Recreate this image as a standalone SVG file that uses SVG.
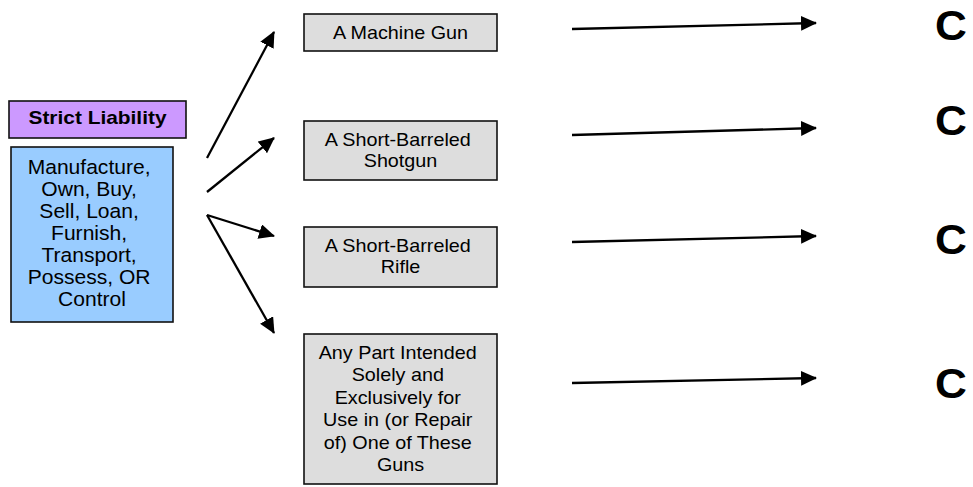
<svg xmlns="http://www.w3.org/2000/svg" width="973" height="487" viewBox="0 0 973 487">
  <defs>
    <marker id="head" markerUnits="userSpaceOnUse" markerWidth="17" markerHeight="16" refX="15" refY="7.5" orient="auto">
      <path d="M0,0 L16,7.5 L0,15 Z" fill="#000"/>
    </marker>
    <style>
      text { font-family: "Liberation Sans", Arial, sans-serif; fill: #000; text-anchor: middle; }
      .box { stroke: #111; stroke-width: 1.6; }
      .title { fill: #CC99FF; }
      .acts { fill: #99CCFF; }
      .item { fill: #DDDDDD; }
      .t-title { font-size: 18.5px; font-weight: bold; }
      .t-acts { font-size: 19.5px; }
      .t-item { font-size: 19px; }
      .t-c { font-size: 42px; font-weight: bold; text-anchor: start; }
      .link { stroke: #000; stroke-width: 2.3; fill: none; marker-end: url(#head); }
    </style>
  </defs>
  <rect width="973" height="487" fill="#fff"/>

  <g id="strict-liability">
    <rect class="box title" x="9" y="101" width="177" height="37"/>
    <text class="t-title" x="97.5" y="123.5" textLength="138" lengthAdjust="spacingAndGlyphs">Strict Liability</text>
  </g>

  <g id="acts">
    <rect class="box acts" x="11" y="147" width="162" height="175"/>
    <text class="t-acts" transform="translate(92 0) scale(1.08 1)">
      <tspan x="0" y="174.5">Manufacture,</tspan>
      <tspan x="0" y="196.5">Own, Buy,</tspan>
      <tspan x="0" y="218.5">Sell, Loan,</tspan>
      <tspan x="0" y="240.5">Furnish,</tspan>
      <tspan x="0" y="262.5">Transport,</tspan>
      <tspan x="0" y="284.5">Possess, OR</tspan>
      <tspan x="0" y="306.5">Control</tspan>
    </text>
  </g>

  <g id="machine-gun">
    <rect class="box item" x="304" y="14" width="193" height="37"/>
    <text class="t-item" transform="translate(400.5 0) scale(1.04 1)" x="0" y="39">A Machine Gun</text>
  </g>

  <g id="shotgun">
    <rect class="box item" x="304" y="121" width="193" height="59"/>
    <text class="t-item" transform="translate(400.5 0) scale(1.04 1)">
      <tspan x="0" y="146">A Short-Barreled</tspan>
      <tspan x="0" y="166.7">Shotgun</tspan>
    </text>
  </g>

  <g id="rifle">
    <rect class="box item" x="304" y="227" width="193" height="60"/>
    <text class="t-item" transform="translate(400.5 0) scale(1.04 1)">
      <tspan x="0" y="252">A Short-Barreled</tspan>
      <tspan x="0" y="273">Rifle</tspan>
    </text>
  </g>

  <g id="parts">
    <rect class="box item" x="304" y="334" width="193" height="150"/>
    <text class="t-item" transform="translate(400.5 0) scale(1.04 1)">
      <tspan x="0" y="359">Any Part Intended</tspan>
      <tspan x="0" y="381.5">Solely and</tspan>
      <tspan x="0" y="404">Exclusively for</tspan>
      <tspan x="0" y="426.5">Use in (or Repair</tspan>
      <tspan x="0" y="449">of) One of These</tspan>
      <tspan x="0" y="471.5">Guns</tspan>
    </text>
  </g>

  <g id="results">
    <text class="t-c" transform="translate(935 40) scale(1.05 1)">C</text>
    <text class="t-c" transform="translate(935 135) scale(1.05 1)">C</text>
    <text class="t-c" transform="translate(935 254) scale(1.05 1)">C</text>
    <text class="t-c" transform="translate(935 398) scale(1.05 1)">C</text>
  </g>

  <g id="connectors">
    <line class="link" x1="207" y1="158" x2="274" y2="32"/>
    <line class="link" x1="207" y1="192" x2="274" y2="138"/>
    <line class="link" x1="207" y1="215" x2="274" y2="236"/>
    <line class="link" x1="207" y1="215" x2="274" y2="333"/>
    <line class="link" x1="572" y1="29" x2="816" y2="23"/>
    <line class="link" x1="572" y1="135" x2="816" y2="128"/>
    <line class="link" x1="572" y1="242" x2="816" y2="236"/>
    <line class="link" x1="572" y1="383" x2="816" y2="378"/>
  </g>
</svg>
